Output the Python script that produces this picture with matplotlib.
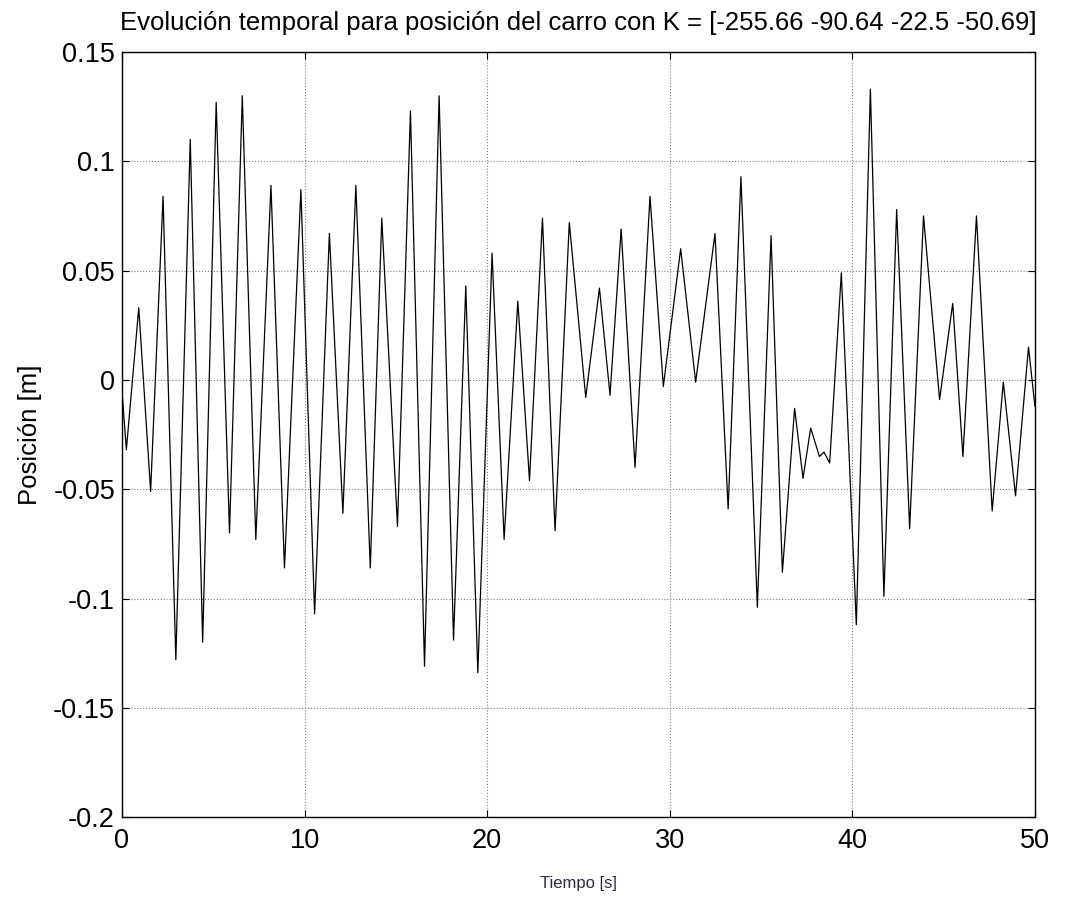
import matplotlib
matplotlib.use("Agg")
import matplotlib.pyplot as plt
from matplotlib import font_manager

# extrema of the cart position (time [s], position [m])
t_pts = [0.0, 0.24, 0.92, 1.57, 2.25, 2.95, 3.74, 4.42, 5.16, 5.89, 6.59, 7.33,
         8.16, 8.9, 9.8, 10.55, 11.36, 12.1, 12.81, 13.6, 14.23, 15.09, 15.8,
         16.57, 17.37, 18.16, 18.83, 19.49, 20.27, 20.93, 21.68, 22.32, 23.03,
         23.72, 24.5, 25.4, 26.15, 26.73, 27.34, 28.1, 28.92, 29.65, 30.6,
         31.42, 32.48, 33.2, 33.9, 34.8, 35.55, 36.17, 36.84, 37.3, 37.72,
         38.2, 38.45, 38.76, 39.4, 40.22, 40.99, 41.73, 42.43, 43.14, 43.9,
         44.78, 45.5, 46.06, 46.8, 47.66, 48.27, 48.94, 49.65, 50.0]
x_pts = [-0.005, -0.032, 0.033, -0.051, 0.084, -0.128, 0.110, -0.120, 0.127,
         -0.070, 0.130, -0.073, 0.089, -0.086, 0.087, -0.107, 0.067, -0.061,
         0.089, -0.086, 0.074, -0.067, 0.123, -0.131, 0.130, -0.119, 0.043,
         -0.134, 0.058, -0.073, 0.036, -0.046, 0.074, -0.069, 0.072, -0.008,
         0.042, -0.007, 0.069, -0.040, 0.084, -0.003, 0.060, -0.001, 0.067,
         -0.059, 0.093, -0.104, 0.066, -0.088, -0.013, -0.045, -0.022, -0.035,
         -0.033, -0.038, 0.049, -0.112, 0.133, -0.099, 0.078, -0.068, 0.075,
         -0.009, 0.035, -0.035, 0.075, -0.060, -0.001, -0.053, 0.015, -0.012]

x_ticks = [0, 10, 20, 30, 40, 50]
y_ticks = [-0.2, -0.15, -0.1, -0.05, 0, 0.05, 0.1, 0.15]
y_labels = ['-0.2', '-0.15', '-0.1', '-0.05', '0', '0.05', '0.1', '0.15']

installed = {f.name for f in font_manager.fontManager.ttflist}
narrow = 'Liberation Sans Narrow' if 'Liberation Sans Narrow' in installed else 'Liberation Sans'
plt.rcParams['font.family'] = ['Liberation Sans', 'DejaVu Sans']

fig = plt.figure(figsize=(10.68, 9.13), dpi=100)
ax = fig.add_axes([0.1142, 0.105, 0.8548, 0.838])

ax.plot(t_pts, x_pts, color='black', linewidth=0.9)

ax.set_xlim(0, 50)
ax.set_ylim(-0.2, 0.15)
ax.set_xticks(x_ticks)
ax.set_yticks(y_ticks)
ax.set_yticklabels(y_labels)
ax.tick_params(direction='in', length=5, width=0.8, labelsize=19.5,
               top=True, right=True)
ax.tick_params(axis='x', pad=8)
ax.tick_params(axis='y', pad=5)
ax.grid(True, color='#808080', linestyle=':', linewidth=0.8)
for s in ax.spines.values():
    s.set_linewidth(1.0)

ax.set_title('Evolución temporal para posición del carro con K = [-255.66 -90.64 -22.5 -50.69]',
             fontsize=18.5 if narrow == 'Liberation Sans' else 22,
             family=[narrow, 'DejaVu Sans'], pad=16, x=0.5)
ax.set_ylabel('Posición [m]', fontsize=18.5, labelpad=8)
ax.set_xlabel('Tiempo [s]', fontsize=12, color='#2b2b48', labelpad=16)

plt.savefig('out.png', dpi=100)
plt.close()
